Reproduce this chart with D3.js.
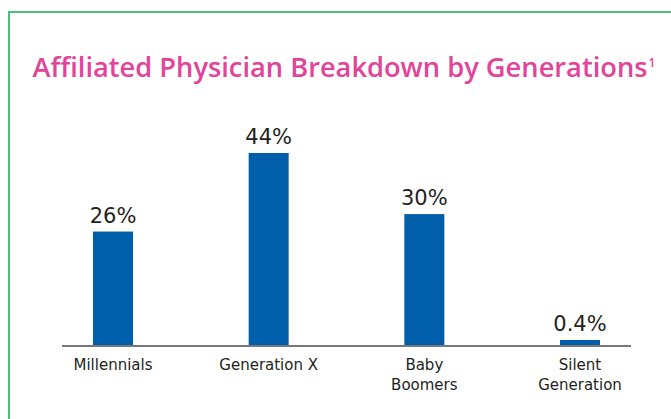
<!DOCTYPE html>
<html>
<head>
<meta charset="utf-8">
<script src="https://cdn.jsdelivr.net/npm/d3@7"></script>
<style>
  html, body { margin: 0; padding: 0; background: #ffffff; }
  svg { display: block; }
</style>
</head>
<body>
<svg id="chart" width="671" height="419"></svg>
<script>
// ---- data ----
const categories = ["Millennials", "Generation X", "Baby Boomers", "Silent Generation"];
const categoryLines = [["Millennials"], ["Generation X"], ["Baby", "Boomers"], ["Silent", "Generation"]];
const values = [26, 44, 30, 0.4];
const valueLabels = ["26%", "44%", "30%", "0.4%"];
const titleText = "Affiliated Physician Breakdown by Generations";
const titleSup = "1";

// ---- styles ----
const pink = "#e2449a";
const blue = "#005eaa";
const textDark = "#231f20";
const axisGray = "#77787b";
const green = "#4fbf7c";
const titleFont = "'Open Sans', 'DejaVu Sans', sans-serif";
const labelFont = "'DejaVu Sans', 'Open Sans', sans-serif";

const svg = d3.select("#chart");

// frame
svg.append("rect")
  .attr("x", 9).attr("y", 12)
  .attr("width", 720).attr("height", 500)
  .attr("fill", "none")
  .attr("stroke", green)
  .attr("stroke-width", 2);

// title
const title = svg.append("text")
  .attr("x", 32.5).attr("y", 76.5)
  .attr("fill", pink)
  .attr("font-family", titleFont)
  .attr("font-weight", 600)
  .attr("font-size", 25);
const tMain = title.append("tspan").text(titleText);
const tSup = title.append("tspan")
  .attr("font-size", 12)
  .attr("dy", -10)
  .attr("dx", 1)
  .text(titleSup);
// fit main title to the reference width
const targetW = 615;
const w = tMain.node().getComputedTextLength();
const fs = 25 * targetW / w;
title.attr("font-size", Math.max(21, Math.min(28, fs)));

// scales
const x = d3.scalePoint().domain(categories).range([113, 580]);
const y = d3.scaleLinear().domain([0, 44]).range([345, 153]);
const barW = 40;
const minH = 5;

const data = categories.map((c, i) => ({ c, v: values[i], label: valueLabels[i], lines: categoryLines[i] }));

const barTop = d => Math.min(y(d.v), y(0) - minH);

// bars
svg.append("g").selectAll("rect")
  .data(data)
  .join("rect")
  .attr("x", d => x(d.c) - barW / 2)
  .attr("y", d => barTop(d))
  .attr("width", barW)
  .attr("height", d => y(0) - barTop(d))
  .attr("fill", blue);

// axis line
svg.append("line")
  .attr("x1", 62).attr("x2", 631)
  .attr("y1", 346).attr("y2", 346)
  .attr("stroke", axisGray)
  .attr("stroke-width", 2);

// value labels
svg.append("g").selectAll("text")
  .data(data)
  .join("text")
  .attr("x", d => x(d.c))
  .attr("y", d => barTop(d) - 9)
  .attr("text-anchor", "middle")
  .attr("font-family", labelFont)
  .attr("font-size", 21)
  .attr("fill", textDark)
  .text(d => d.label);

// category labels
const cat = svg.append("g").selectAll("text")
  .data(data)
  .join("text")
  .attr("x", d => x(d.c))
  .attr("y", 370)
  .attr("text-anchor", "middle")
  .attr("font-family", labelFont)
  .attr("font-size", 15)
  .attr("fill", textDark);
cat.selectAll("tspan")
  .data(d => d.lines.map(l => ({ l, x: x(d.c) })))
  .join("tspan")
  .attr("x", d => d.x)
  .attr("dy", (d, i) => i === 0 ? 0 : 20)
  .text(d => d.l);
</script>
</body>
</html>
